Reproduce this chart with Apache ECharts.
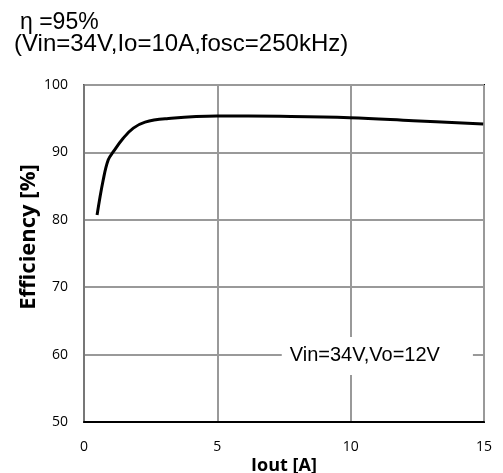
<!DOCTYPE html>
<html>
<head>
<meta charset="utf-8">
<script src="https://cdn.jsdelivr.net/npm/echarts@6/dist/echarts.min.js"></script>
<style>
  html, body { margin: 0; padding: 0; background: #fff; }
  #main { width: 503px; height: 473px; }
</style>
</head>
<body>
<div id="main"></div>
<script>
// efficiency curve
var iout = [0.49, 0.72, 0.91, 1.1, 1.47, 1.85, 2.29, 3.1, 4.98, 7.35, 9.97, 12.35, 14.97];
var eff  = [80.7, 85.9, 88.9, 90.1, 92.1, 93.6, 94.5, 95.0, 95.4, 95.35, 95.15, 94.7, 94.2];
var xTicks = [0, 5, 10, 15];
var yTicks = [50, 60, 70, 80, 90, 100];
var titleLine1 = 'η =95%';
var titleLine2 = '(Vin=34V,Io=10A,fosc=250kHz)';
var noteText = 'Vin=34V,Vo=12V';
var notePos = [11.0, 59.8];

var chart = echarts.init(document.getElementById('main'));

var pts = [];
for (var i = 0; i < iout.length; i++) {
  pts.push([iout[i], eff[i]]);
}

chart.setOption({
  animation: false,
  backgroundColor: '#fff',
  title: [{
    text: titleLine1,
    left: 15, top: 6,
    textStyle: { fontFamily: 'Liberation Sans', fontSize: 23, fontWeight: 'normal', color: '#000' }
  }, {
    text: titleLine2,
    left: 9, top: 27,
    textStyle: { fontFamily: 'Liberation Sans', fontSize: 24, fontWeight: 'normal', color: '#000' }
  }],
  graphic: [{
    // y axis title, sits a bit above the middle like in the original
    type: 'text',
    x: 29, y: 237,
    rotation: Math.PI / 2,
    style: {
      text: 'Efficiency [%]',
      fontFamily: 'Open Sans', fontWeight: 'bold', fontSize: 22,
      fill: '#000', align: 'center', verticalAlign: 'middle'
    }
  }],
  grid: {
    left: 84, right: 19, top: 85, bottom: 51,
    outerBoundsMode: 'none',
    show: true, borderColor: '#000', borderWidth: 2
  },
  xAxis: {
    type: 'value',
    min: xTicks[0], max: xTicks[xTicks.length - 1], interval: 5,
    name: 'Iout [A]', nameLocation: 'middle', nameGap: 35,
    nameMoveOverlap: false,
    nameTextStyle: { fontFamily: 'Open Sans', fontWeight: 'bold', fontSize: 18, color: '#000' },
    axisLine: { lineStyle: { color: '#000', width: 2 } },
    axisTick: { show: false },
    axisLabel: { fontFamily: 'Open Sans', fontSize: 14, color: '#000', margin: 18 },
    splitLine: { lineStyle: { color: '#999', width: 2 } }
  },
  yAxis: {
    type: 'value',
    min: yTicks[0], max: yTicks[yTicks.length - 1], interval: 10,
    axisLine: { show: true, lineStyle: { color: '#777', width: 2 } },
    axisTick: { show: false },
    axisLabel: { fontFamily: 'Open Sans', fontSize: 14, color: '#000', margin: 16 },
    splitLine: { lineStyle: { color: '#999', width: 2 } }
  },
  series: [{
    type: 'line',
    data: pts,
    smooth: 0.4,
    symbol: 'none',
    lineStyle: { color: '#000', width: 3 },
    markPoint: {
      symbol: 'rect', symbolSize: 1,
      itemStyle: { color: 'rgba(0,0,0,0)' },
      data: [{ coord: notePos }],
      label: {
        show: true,
        formatter: noteText,
        position: 'inside',
        fontFamily: 'Liberation Sans', fontSize: 20, color: '#000',
        backgroundColor: '#fff',
        padding: [9, 33, 9, 8]
      }
    }
  }]
});
</script>
</body>
</html>
